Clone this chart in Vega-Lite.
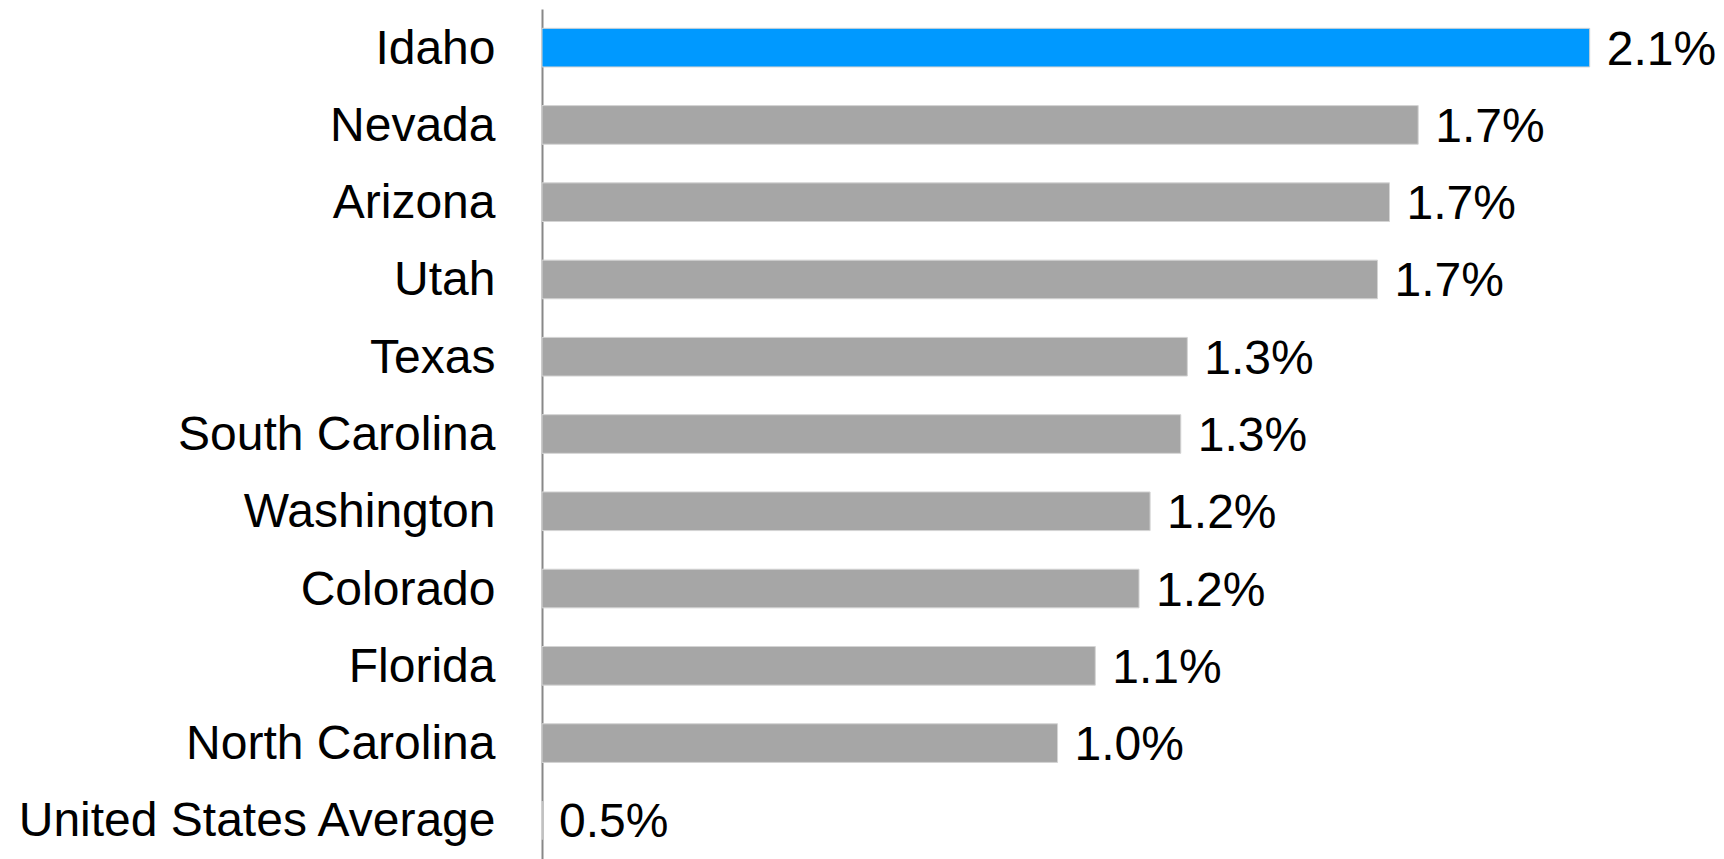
{
  "$schema": "https://vega.github.io/schema/vega-lite/v6.json",
  "width": 1180,
  "height": 850,
  "autosize": {"type": "none"},
  "padding": {"left": 542, "top": 9, "right": 2, "bottom": 0},
  "background": "white",
  "config": {"view": {"stroke": null}, "font": "Liberation Sans"},
  "data": {
    "values": [
      {"state": "Idaho", "value": 2.083, "label": "2.1%", "group": "highlight"},
      {"state": "Nevada", "value": 1.742, "label": "1.7%", "group": "other"},
      {"state": "Arizona", "value": 1.685, "label": "1.7%", "group": "other"},
      {"state": "Utah", "value": 1.661, "label": "1.7%", "group": "other"},
      {"state": "Texas", "value": 1.283, "label": "1.3%", "group": "other"},
      {"state": "South Carolina", "value": 1.270, "label": "1.3%", "group": "other"},
      {"state": "Washington", "value": 1.209, "label": "1.2%", "group": "other"},
      {"state": "Colorado", "value": 1.187, "label": "1.2%", "group": "other"},
      {"state": "Florida", "value": 1.100, "label": "1.1%", "group": "other"},
      {"state": "North Carolina", "value": 1.025, "label": "1.0%", "group": "other"},
      {"state": "United States Average", "value": 0, "label": "0.5%", "group": "other"}
    ]
  },
  "encoding": {
    "y": {
      "field": "state",
      "type": "nominal",
      "sort": null,
      "scale": {"paddingInner": 0.5, "paddingOuter": 0.25},
      "axis": {
        "title": null,
        "ticks": false,
        "labelFontSize": 48,
        "labelColor": "#000000",
        "labelPadding": 47,
        "labelOffset": 2,
        "labelFont": "Liberation Sans",
        "domainColor": "#888888",
        "domainWidth": 2,
        "labelLimit": 600
      }
    },
    "x": {
      "field": "value",
      "type": "quantitative",
      "scale": {"domain": [0, 2.346], "nice": false, "zero": true},
      "axis": null
    }
  },
  "layer": [
    {
      "mark": {"type": "bar", "stroke": "#d4d4d4", "strokeWidth": 1},
      "encoding": {
        "color": {
          "field": "group",
          "type": "nominal",
          "scale": {"domain": ["highlight", "other"], "range": ["#0099ff", "#a6a6a6"]},
          "legend": null
        }
      }
    },
    {
      "mark": {"type": "text", "align": "left", "baseline": "middle", "dx": 17, "dy": 3, "fontSize": 48, "color": "#000000", "font": "Liberation Sans"},
      "encoding": {"text": {"field": "label"}}
    }
  ]
}
